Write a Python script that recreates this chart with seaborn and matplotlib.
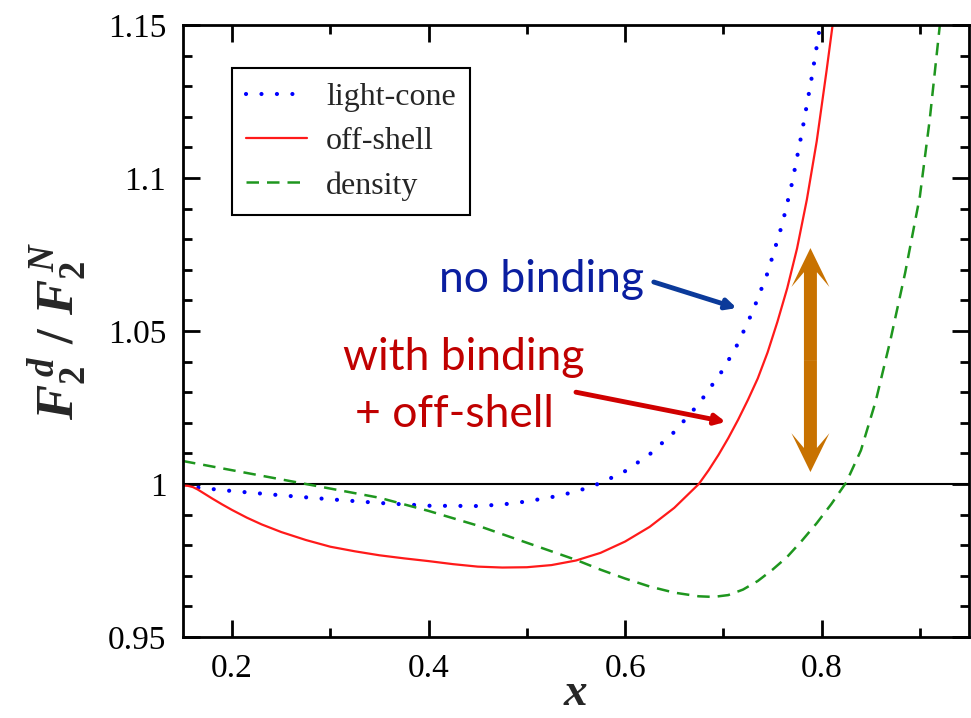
import numpy as np
import pandas as pd
import matplotlib
matplotlib.use("Agg")
import matplotlib.pyplot as plt
import seaborn as sns

# --- data ---
x_lc = [0.15, 0.175, 0.20, 0.25, 0.30, 0.35, 0.40, 0.45, 0.475, 0.50, 0.525, 0.55,
        0.575, 0.60, 0.625, 0.65, 0.675, 0.70, 0.715, 0.73, 0.745, 0.76, 0.77, 0.78,
        0.79, 0.80]
y_lc = [0.9994, 0.9985, 0.9977, 0.9963, 0.9950, 0.9938, 0.9929, 0.9928, 0.9933, 0.9943,
        0.9957, 0.9975, 1.0003, 1.0042, 1.0097, 1.0170, 1.0262, 1.0375, 1.0460, 1.0565,
        1.0690, 1.0850, 1.0985, 1.1150, 1.1330, 1.1530]

x_os = [0.15, 0.155, 0.16, 0.165, 0.17, 0.18, 0.19, 0.20, 0.215, 0.23, 0.25, 0.275,
        0.30, 0.325, 0.35, 0.375, 0.40, 0.425, 0.45, 0.475, 0.50, 0.525, 0.55, 0.575,
        0.60, 0.625, 0.65, 0.675, 0.685, 0.695, 0.705, 0.715, 0.725, 0.735, 0.745,
        0.755, 0.765, 0.775, 0.785, 0.795, 0.805, 0.812]
y_os = [0.9995, 0.9994, 0.9990, 0.9982, 0.9972, 0.9952, 0.9933, 0.9915, 0.9890, 0.9868,
        0.9843, 0.9817, 0.9795, 0.9780, 0.9767, 0.9757, 0.9748, 0.9738, 0.9730, 0.9727,
        0.9728, 0.9735, 0.9750, 0.9775, 0.9812, 0.9860, 0.9922, 1.0000, 1.0045, 1.0095,
        1.0150, 1.0210, 1.0275, 1.0345, 1.0430, 1.0530, 1.0640, 1.0770, 1.0930, 1.1120,
        1.1350, 1.1520]

x_den = [0.15, 0.20, 0.25, 0.30, 0.35, 0.40, 0.45, 0.50, 0.55, 0.575, 0.60, 0.625,
         0.65, 0.675, 0.69, 0.705, 0.72, 0.735, 0.75, 0.765, 0.78, 0.795, 0.81, 0.825,
         0.84, 0.855, 0.87, 0.885, 0.90, 0.91, 0.921]
y_den = [1.0075, 1.0045, 1.0015, 0.9985, 0.9955, 0.9912, 0.9864, 0.9808, 0.9752, 0.9720,
         0.9691, 0.9665, 0.9645, 0.9633, 0.9631, 0.9637, 0.9655, 0.9683, 0.9720, 0.9762,
         0.9815, 0.9872, 0.9935, 1.0005, 1.0110, 1.0270, 1.0470, 1.0690, 1.0940, 1.1190,
         1.1520]

labels = ["light-cone", "off-shell", "density"]

sns.set_style("ticks")
plt.rcParams["font.family"] = ["Liberation Serif", "DejaVu Serif"]
plt.rcParams["mathtext.fontset"] = "custom"
plt.rcParams["mathtext.it"] = "Liberation Serif:italic:bold"
plt.rcParams["mathtext.rm"] = "Liberation Serif:bold"
plt.rcParams["mathtext.bf"] = "Liberation Serif:bold"

fig = plt.figure(figsize=(9.71, 7.18), dpi=100)
ax = fig.add_axes([183 / 971, 1 - 637 / 718, 786 / 971, 612 / 718])

ax.axhline(1.0, color="black", lw=1.5, zorder=1)

sns.lineplot(x=x_lc, y=y_lc, ax=ax, color="#0000ff", lw=3.0, label=labels[0],
             linestyle=(0, (0.01, 3.7)), dash_capstyle="round", sort=False)
sns.lineplot(x=x_os, y=y_os, ax=ax, color="#ff1a1a", lw=1.6, label=labels[1], sort=False)
sns.lineplot(x=x_den, y=y_den, ax=ax, color="#1e961e", lw=1.8, label=labels[2],
             linestyle=(0, (5.0, 3.2)), sort=False)

ax.set_xlim(0.15, 0.95)
ax.set_ylim(0.95, 1.15)
ax.set_xticks([0.2, 0.4, 0.6, 0.8])
ax.set_xticklabels(["0.2", "0.4", "0.6", "0.8"])
ax.set_xticks(np.arange(0.2, 0.95, 0.1), minor=True)
ax.set_yticks([0.95, 1.0, 1.05, 1.1, 1.15])
ax.set_yticklabels(["0.95", "1", "1.05", "1.1", "1.15"])
ax.set_yticks(np.arange(0.95, 1.151, 0.01), minor=True)
ax.tick_params(which="both", direction="in", top=True, right=True, width=2, colors="black")
ax.tick_params(which="major", length=12, labelsize=24, pad=12)
ax.tick_params(which="minor", length=6.5)
for sp in ax.spines.values():
    sp.set_linewidth(2)
    sp.set_color("black")

ax.set_xlabel(r"$x$", fontsize=34)
ax.xaxis.set_label_coords(0.5, -0.058)
ax.set_ylabel(r"$F_2^{\,d}\ /\ F_2^{\,N}$", fontsize=38)
ax.yaxis.set_label_coords(-0.12, 0.5)

leg = ax.legend(loc="upper left", bbox_to_anchor=(0.0623, 0.9297), borderaxespad=0,
                fontsize=23, handlelength=1.9, handletextpad=0.6, labelspacing=0.47,
                borderpad=0.45, fancybox=False, framealpha=1)
leg.get_frame().set_edgecolor("black")
leg.get_frame().set_linewidth(1.5)

# annotations
ann_font = ["Lato", "DejaVu Sans"]
ax.text(0.4109, 1.0627, "no binding", color="#0a1ea0", fontsize=32, family=ann_font,
        ha="left", va="baseline")
ax.annotate("", xy=(0.7135, 1.0575), xytext=(0.6292, 1.0660),
            arrowprops=dict(arrowstyle="-|>,head_length=0.6,head_width=0.3",
                            color="#0b3a9a", lw=3.5, shrinkA=0, shrinkB=0))
ax.text(0.3124, 1.0373, "with binding", color="#c00000", fontsize=32, family=ann_font,
        ha="left", va="baseline")
ax.text(0.3246, 1.0186, "+ off-shell", color="#c00000", fontsize=32, family=ann_font,
        ha="left", va="baseline")
ax.annotate("", xy=(0.7023, 1.0203), xytext=(0.5500, 1.0300),
            arrowprops=dict(arrowstyle="-|>,head_length=0.6,head_width=0.3",
                            color="#d00000", lw=3.5, shrinkA=0, shrinkB=0))

# orange double arrow
ox, oy_top, oy_bot = 0.7886, 1.0771, 1.0039
oy_mid = (oy_top + oy_bot) / 2
for dy in (oy_top - oy_mid, oy_bot - oy_mid):
    ax.arrow(ox, oy_mid, 0, dy, width=0.0132, head_width=0.0386, head_length=0.0127,
             overhang=0.38, length_includes_head=True, color="#c87200", lw=0, zorder=3)

fig.savefig("out.png", dpi=100)
